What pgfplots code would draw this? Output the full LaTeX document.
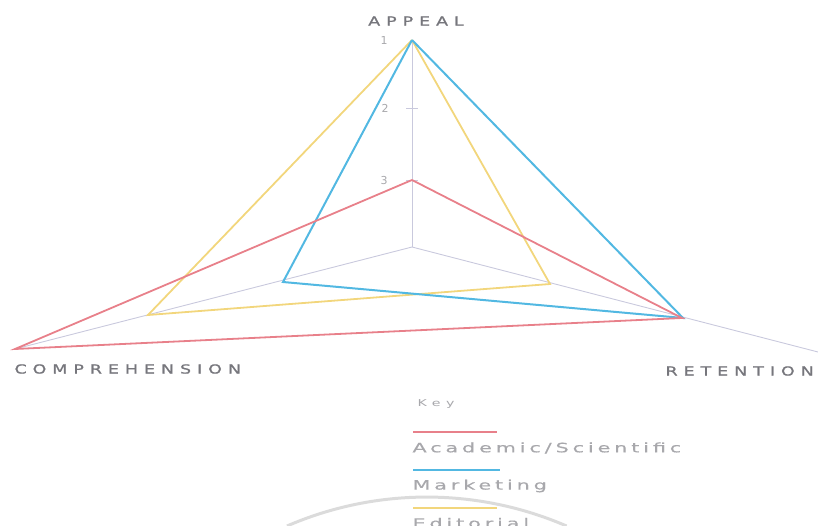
\documentclass[border=0pt]{standalone}
\usepackage{pgfplots}
\pgfplotsset{compat=1.18}
\usepackage{fontspec}
\setmainfont{DejaVu Sans}
\newfontfamily\wide[LetterSpace=48,FakeStretch=1.4,FakeBold=1.2]{DejaVu Sans}
\newfontfamily\widel[LetterSpace=30,FakeStretch=1.6,FakeBold=0.4]{DejaVu Sans}
\newfontfamily\widek[LetterSpace=60,FakeStretch=1.5]{DejaVu Sans}
\definecolor{acadc}{HTML}{E8808A}
\definecolor{markc}{HTML}{52B8E2}
\definecolor{editc}{HTML}{F2D67C}
\definecolor{gridc}{HTML}{C9C9DD}
\definecolor{txt}{HTML}{76767C}
\definecolor{ltxt}{HTML}{A8A8AC}
\begin{document}
\begin{tikzpicture}
\begin{axis}[
  at={(0,0)}, anchor=south west,
  scale only axis, width=818bp, height=526bp,
  xmin=0, xmax=818, ymin=0, ymax=526, y dir=reverse,
  hide axis, clip=false,
]
% axes
\addplot[gridc, line width=0.9bp] coordinates {(412,40) (412,247)};
\addplot[gridc, line width=0.9bp] coordinates {(412,247) (15,349)};
\addplot[gridc, line width=0.9bp] coordinates {(412,247) (818,352)};
\addplot[gridc, line width=0.9bp] coordinates {(406,108) (418,108)};
\addplot[gridc, line width=0.9bp] coordinates {(406,180) (418,180)};
% series
\addplot[editc, line width=1.8bp] coordinates {(412,40) (148,315) (550,284) (412,40)};
\addplot[markc, line width=2bp] coordinates {(412,40) (283,282) (683,318) (412,40)};
\addplot[acadc, line width=1.8bp] coordinates {(412,180) (15,349) (682,318) (412,180)};
% bottom arc
\draw[black!14, line width=3bp] (axis cs:287,526) arc[start angle=113.4, end angle=66.6, radius=352bp];
% labels
\node[txt, font=\wide\fontsize{12.5}{14}\selectfont] at (axis cs:416,21) {APPEAL};
\node[txt, font=\wide\fontsize{12.5}{14}\selectfont, anchor=west] at (axis cs:11,369) {COMPREHENSION};
\node[txt, font=\wide\fontsize{12.5}{14}\selectfont, anchor=west] at (axis cs:662,371) {RETENTION};
\node[ltxt, font=\fontsize{11}{12}\selectfont] at (axis cs:384,41) {1};
\node[ltxt, font=\fontsize{11}{12}\selectfont] at (axis cs:385,108) {2};
\node[ltxt, font=\fontsize{11}{12}\selectfont] at (axis cs:384,181) {3};
% legend
\node[ltxt, font=\widek\fontsize{9.5}{11}\selectfont, anchor=west] at (axis cs:414,404) {Key};
\draw[acadc, line width=1.2bp] (axis cs:413,432) -- (axis cs:497,432);
\node[ltxt, font=\widel\fontsize{13}{15}\selectfont, anchor=west] at (axis cs:409,448) {Academic/Scientific};
\draw[markc, line width=1.2bp] (axis cs:413,470) -- (axis cs:500,470);
\node[ltxt, font=\widel\fontsize{13}{15}\selectfont, anchor=west] at (axis cs:409,486) {Marketing};
\draw[editc, line width=1.2bp] (axis cs:413,508) -- (axis cs:497,508);
\node[ltxt, font=\widel\fontsize{13}{15}\selectfont, anchor=west] at (axis cs:409,523) {Editorial};
\end{axis}
\pgfresetboundingbox
\useasboundingbox (0,0) rectangle (818bp,526bp);
\end{tikzpicture}
\end{document}
